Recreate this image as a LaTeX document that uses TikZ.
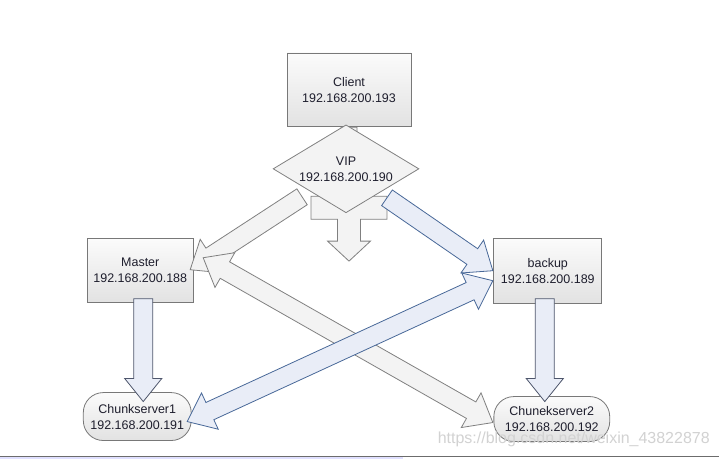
\documentclass[tikz,border=0pt]{standalone}
\usepackage{fontspec}
\setmainfont{Liberation Sans}
\usetikzlibrary{calc}
\usetikzlibrary{shapes.geometric}
\definecolor{boxline}{RGB}{120,120,120}
\definecolor{boxtop}{RGB}{251,251,251}
\definecolor{boxbot}{RGB}{226,226,226}
\definecolor{txt}{RGB}{30,30,45}
\definecolor{grayfill}{RGB}{243,243,243}
\definecolor{grayline}{RGB}{128,128,128}
\definecolor{bluefill}{RGB}{233,237,247}
\definecolor{blueline}{RGB}{72,104,152}
\definecolor{downline}{RGB}{78,86,108}

% sizes of the block arrows
\def\arshaft{9.5}
\def\arheadw{20}
\def\arheadl{25}

% angle and length of the line from #1 to #2
\newcommand\arrowframe[2]{%
  \path let \p1=(#1), \p2=(#2) in
    \pgfextra{\pgfmathsetmacro\arang{atan2((\y2)-(\y1),(\x2)-(\x1))}%
      \pgfmathsetmacro\arlen{veclen((\x2)-(\x1),(\y2)-(\y1))}%
      \xdef\arang{\arang}\xdef\arlen{\arlen}};}

% block arrow with one head
\newcommand\onearrow[3][]{%
  \arrowframe{#2}{#3}
  \draw[#1, shift={(#2)}, rotate=\arang]
    (0,-\arshaft) -- (\arlen-\arheadl,-\arshaft) -- (\arlen-\arheadl,-\arheadw) -- (\arlen,0)
    -- (\arlen-\arheadl,\arheadw) -- (\arlen-\arheadl,\arshaft) -- (0,\arshaft) -- cycle;}

% block arrow with two heads
\newcommand\twoarrow[3][]{%
  \arrowframe{#2}{#3}
  \draw[#1, shift={(#2)}, rotate=\arang]
    (0,0) -- (\arheadl,-\arheadw) -- (\arheadl,-\arshaft) -- (\arlen-\arheadl,-\arshaft)
    -- (\arlen-\arheadl,-\arheadw) -- (\arlen,0) -- (\arlen-\arheadl,\arheadw)
    -- (\arlen-\arheadl,\arshaft) -- (\arheadl,\arshaft) -- (\arheadl,\arheadw) -- cycle;}

\begin{document}
\begin{tikzpicture}[
            x = 1pt, y = -1pt, % pixel like coordinates
            font = \fontsize{12.5}{16}\selectfont,
            text = txt,
            line width = 0.8pt
        ]

        \tikzstyle{box}=[
            draw = boxline,
            top color = boxtop,
            bottom color = boxbot,
            align = center,
            inner sep = 2pt
        ]
        \tikzstyle{server}=[box, rounded corners = 20pt]
        \tikzstyle{grayarr}=[draw = grayline, fill = grayfill]
        \tikzstyle{bluearr}=[draw = blueline, fill = bluefill]
        \tikzstyle{downarr}=[draw = downline, fill = bluefill]

        \fill[white] (0,0) rectangle (719,459);

        % hosts
        \node[box, minimum width = 124pt, minimum height = 74pt] (client) at (349,90) {Client\\192.168.200.193};
        \node[box, minimum width = 106pt, minimum height = 64pt] (master) at (140,271) {Master\\192.168.200.188};
        \node[box, minimum width = 108pt, minimum height = 65pt] (backup) at (548,271.5) {backup\\192.168.200.189};
        \node[server, minimum width = 108pt, minimum height = 48pt] (chunk1) at (137,417) {Chunkserver1\\192.168.200.191};
        \node[server, minimum width = 116pt, minimum height = 45pt] (chunk2) at (552,419.5) {Chunekserver2\\192.168.200.192};

        % client arrow behind the vip
        \draw[grayarr, shift = {(client.south)}]
            (-8,0) -- (-8,69) -- (-38,69) -- (-38,92) -- (-11.5,92) -- (-11.5,114) -- (-21.5,114)
            -- (0,134) -- (21.5,114) -- (11.5,114) -- (11.5,92) -- (38,92) -- (38,69) -- (8,69) -- (8,0) -- cycle;

        \node[diamond, draw = grayline, fill = grayfill, align = center, inner sep = 0pt,
              aspect = 1.66, minimum width = 146pt, minimum height = 88pt] (vip) at (346,169) {VIP\\192.168.200.190};

        % arrow ends
        \coordinate (vip-l) at (302,197);
        \coordinate (vip-r) at (387,198);
        \coordinate (master-a) at (190,270);
        \coordinate (master-b) at (203,258);
        \coordinate (backup-a) at (493,271);
        \coordinate (backup-b) at (493,281);
        \coordinate (chunk1-b) at (187,422);
        \coordinate (chunk2-b) at (493,423);
        \coordinate (master-d) at (143,299);
        \coordinate (chunk1-d) at (143,402);
        \coordinate (backup-d) at (545,299);
        \coordinate (chunk2-d) at (545,402);

        % vip to the masters
        \onearrow[grayarr]{vip-l}{master-a}
        \onearrow[bluearr]{vip-r}{backup-a}

        % crossing arrows
        \twoarrow[grayarr]{master-b}{chunk2-b}
        \twoarrow[bluearr]{chunk1-b}{backup-b}

        % masters to chunkservers
        \def\arheadw{18.5}
        \def\arheadl{23}
        \onearrow[downarr]{master-d}{chunk1-d}
        \onearrow[downarr]{backup-d}{chunk2-d}

        % bottom edge
        \draw[gray!85!black] (0,456.5) -- (719,456.5);
        \fill[blue!12] (0,457.5) rectangle (403,459);

        \node[text = gray!35, font = \fontsize{16}{18}\selectfont] (mark) at (574,440) {https://blog.csdn.net/weixin\_43822878};

\end{tikzpicture}
\end{document}
